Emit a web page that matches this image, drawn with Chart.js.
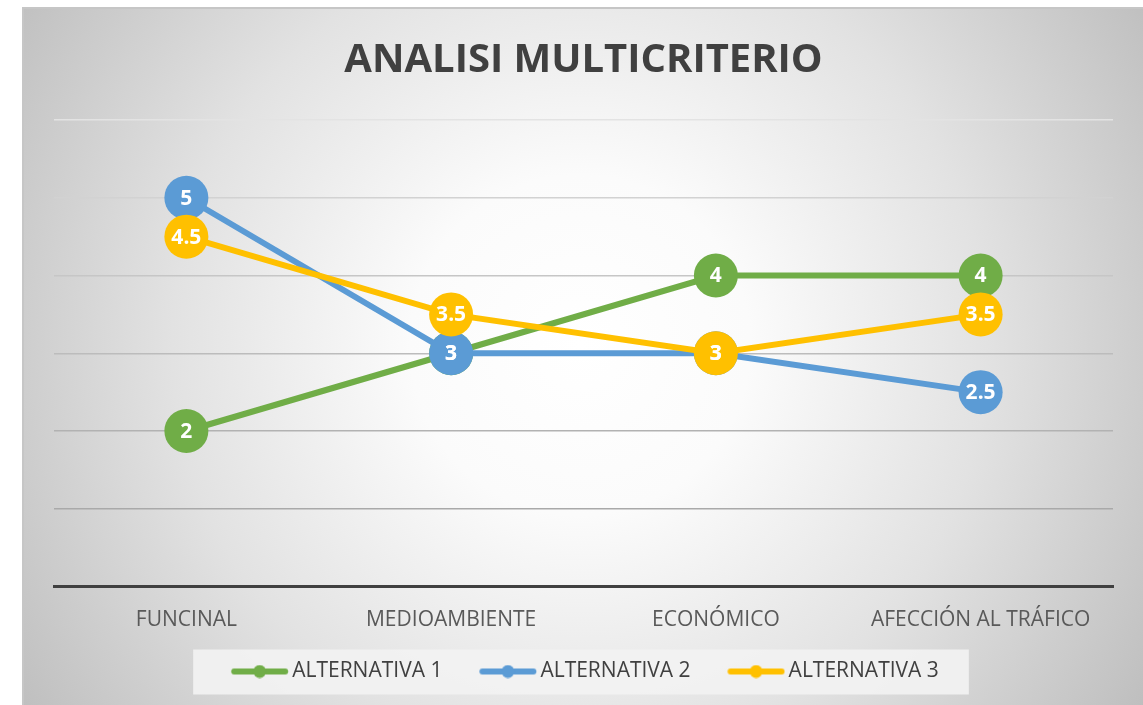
<!DOCTYPE html>
<html>
<head>
<meta charset="utf-8">
<script src="https://cdn.jsdelivr.net/npm/chart.js@4.4.1/dist/chart.umd.min.js"></script>
<style>
html,body{margin:0;padding:0;background:#fff;}
#wrap{position:absolute;left:0;top:0;width:1143px;height:705px;}
</style>
</head>
<body>
<div id="wrap"><canvas id="c" width="1143" height="705"></canvas></div>
<script>
const title = 'ANALISI MULTICRITERIO';
const categories = ['FUNCINAL', 'MEDIOAMBIENTE', 'ECONÓMICO', 'AFECCIÓN AL TRÁFICO'];
const seriesNames = ['ALTERNATIVA 1', 'ALTERNATIVA 2', 'ALTERNATIVA 3'];
const alt1 = [2, 3, 4, 4];
const alt2 = [5, 3, 3, 2.5];
const alt3 = [4.5, 3.5, 3, 3.5];
const yTicks = [0, 1, 2, 3, 4, 5, 6];

const colors = ['#70AD47', '#5B9BD5', '#FFC000'];
const FONT = "'Open Sans', 'Noto Sans', sans-serif";

// legend icon: line with dot, offset inside a wider transparent canvas
const LEG_PAD = 14, LEG_BOX = 73.5, LEG_SHIFT = -10;
const ICON_W = 88, ICON_OFF = 30.25, ICON_LEN = 57;
const MARK_SHIFT = LEG_BOX / 2 - ICON_W / 2 + ICON_OFF; // marker start relative to hitbox left
function legendIcon(color) {
  const cv = document.createElement('canvas');
  cv.width = ICON_W; cv.height = 14;
  const g = cv.getContext('2d');
  g.strokeStyle = color; g.lineWidth = 6; g.lineCap = 'round';
  g.beginPath(); g.moveTo(ICON_OFF + 3, 7); g.lineTo(ICON_OFF + ICON_LEN - 3, 7); g.stroke();
  g.fillStyle = color; g.beginPath(); g.arc(ICON_OFF + ICON_LEN / 2, 7, 6.5, 0, Math.PI * 2); g.fill();
  return cv;
}

const shiftPlugin = {
  id: 'shiftPlugin',
  afterLayout(chart) {
    const lg = chart.legend;
    if (lg) { lg.left += LEG_SHIFT; lg.right += LEG_SHIFT; }
  }
};

const bgPlugin = {
  id: 'bgPlugin',
  beforeDraw(chart) {
    const ctx = chart.ctx;
    ctx.save();
    ctx.fillStyle = '#ffffff';
    ctx.fillRect(0, 0, chart.width, chart.height);
    const x0 = 23, y0 = 8, w = chart.width - x0, h = chart.height - y0;
    const grd = ctx.createRadialGradient(580, 345, 0, 580, 345, 680);
    grd.addColorStop(0, '#ffffff');
    grd.addColorStop(0.25, '#fbfbfb');
    grd.addColorStop(0.6, '#e2e2e2');
    grd.addColorStop(1, '#bdbdbd');
    ctx.fillStyle = grd;
    ctx.fillRect(x0, y0, w, h);
    ctx.strokeStyle = '#c6c6c6';
    ctx.lineWidth = 2;
    ctx.beginPath();
    ctx.moveTo(x0, chart.height); ctx.lineTo(x0, y0); ctx.lineTo(chart.width, y0);
    ctx.stroke();
    const lg = chart.legend;
    if (lg && lg.legendHitBoxes && lg.legendHitBoxes.length) {
      const hb = lg.legendHitBoxes;
      const left = hb[0].left + MARK_SHIFT - 38;
      const right = hb[hb.length - 1].left + hb[hb.length - 1].width + 30;
      const cy = hb[0].top + hb[0].height / 2;
      ctx.fillStyle = 'rgba(242,242,242,0.92)';
      ctx.fillRect(left, cy - 22, right - left, 45);
    }
    ctx.restore();
  }
};

const labelPlugin = {
  id: 'labelPlugin',
  afterDatasetsDraw(chart) {
    const ctx = chart.ctx;
    ctx.save();
    ctx.fillStyle = '#ffffff';
    ctx.font = "bold 21px " + FONT;
    ctx.textAlign = 'center';
    ctx.textBaseline = 'middle';
    [0, 1, 2].forEach(di => {
      const meta = chart.getDatasetMeta(di);
      const ds = chart.data.datasets[di];
      meta.data.forEach((pt, i) => {
        ctx.fillText(String(ds.data[i]), pt.x, pt.y + 1);
      });
    });
    ctx.restore();
  }
};

const gridColors = {0: '#3f3f3f', 1: '#a9a9a9', 2: '#b2b2b2', 3: '#bcbcbc', 4: '#c6c6c6', 5: '#d2d2d2', 6: '#e3e3e3'};

const seriesData = [alt1, alt2, alt3];
const datasets = seriesData.map((d, i) => ({
  label: seriesNames[i],
  data: d,
  borderColor: colors[i],
  backgroundColor: colors[i],
  pointBackgroundColor: colors[i],
  pointBorderColor: colors[i],
  pointRadius: 22,
  pointHoverRadius: 22,
  pointBorderWidth: 0,
  borderWidth: 6,
  tension: 0,
  order: 3 - i,
  pointStyle: 'circle',
  legendIcon: legendIcon(colors[i])
}));

new Chart(document.getElementById('c'), {
  type: 'line',
  data: { labels: categories, datasets },
  plugins: [shiftPlugin, bgPlugin, labelPlugin],
  options: {
    responsive: false,
    animation: false,
    events: [],
    layout: { padding: { left: 54, right: 30, top: 0, bottom: 13 } },
    scales: {
      x: {
        offset: true,
        grid: { display: false, drawTicks: false },
        border: { display: true, color: '#404040', width: 3 },
        ticks: { color: '#595959', font: { family: FONT, size: 21 }, padding: 21 },
        afterFit(axis) { axis.height = 60.5; }
      },
      y: {
        min: 0, max: 6,
        afterBuildTicks(axis) { axis.ticks = yTicks.map(v => ({ value: v })); },
        ticks: { display: false },
        border: { display: false },
        grid: {
          drawTicks: false,
          lineWidth: 1.5,
          color: (ctx) => gridColors[ctx.tick ? ctx.tick.value : 0] || '#bfbfbf'
        }
      }
    },
    plugins: {
      title: {
        display: true,
        text: title,
        color: '#404040',
        font: { family: FONT, size: 40, weight: 'bold', lineHeight: 1.2 },
        padding: { top: 37, bottom: 35 }
      },
      legend: {
        position: 'bottom',
        labels: {
          color: '#404040',
          font: { family: FONT, size: 21 },
          usePointStyle: true,
          pointStyleWidth: LEG_BOX,
          padding: LEG_PAD,
          sort: (a, b) => a.datasetIndex - b.datasetIndex,
          generateLabels(chart) {
            return chart.data.datasets.map((ds, i) => ({
              text: ds.label,
              fillStyle: ds.borderColor,
              strokeStyle: ds.borderColor,
              fontColor: '#404040',
              lineWidth: 0,
              pointStyle: ds.legendIcon,
              datasetIndex: i,
              hidden: false
            }));
          }
        }
      },
      tooltip: { enabled: false }
    }
  }
});
</script>
</body>
</html>
